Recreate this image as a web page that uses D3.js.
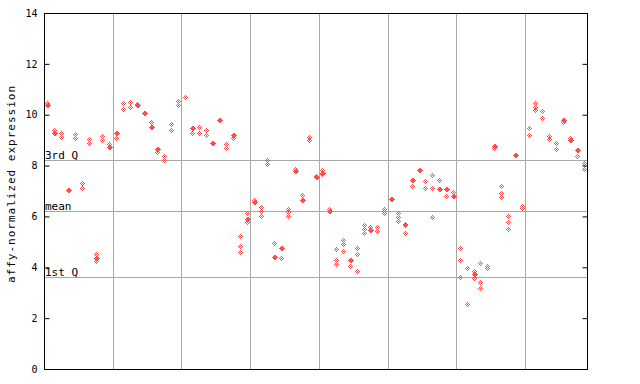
<!DOCTYPE html>
<html><head><meta charset="utf-8">
<script src="https://cdn.jsdelivr.net/npm/d3@7"></script>
<style>body{margin:0;background:#fff}svg{display:block}text{font-family:"DejaVu Sans Mono",monospace}</style>
</head><body>
<svg id="c" width="640" height="384"></svg>
<script>
// ---- data ----
const yTicks = [0, 2, 4, 6, 8, 10, 12, 14];
const quartileNames = ["1st Q", "mean", "3rd Q"];
const quartileValues = [3.62, 6.21, 8.23];
const groupBreaks = [9.5, 19.5, 29.5, 39.5, 49.5, 59.5, 69.5];
// per-sample replicate values, drawn as checkered diamonds
const hollowValues = [
  [10.47],[9.4],[9.3,9.12],[],[9.25,9.1],[7.3,7.12],[9.05,8.88],[4.52,4.25],[9.15,9.02],[8.85],
  [9.1],[10.45,10.22],[10.5,10.32],[10.43],[],[9.72],[8.55],[8.37,8.2],[9.62,9.38],[10.55,10.38],
  [10.68],[9.3],[9.5,9.27],[9.4,9.22],[],[],[8.85,8.7],[9.1],[5.23,4.84,4.6],[6.13,5.8],
  [6.66],[6.38,6.2,6.0],[8.2,8.05],[4.96],[4.36],[6.29,6.17,6.03],[7.86],[6.85],[9.12,9.0],[7.6],
  [7.82,7.65],[6.3],[4.72,4.29,4.13],[5.08,4.92,4.65],[4.06],[4.76,4.52,3.85],[5.67,5.5,5.35],[5.57],[5.57,5.41],[6.29,6.13],
  [],[6.13,5.98,5.83],[5.7,5.65,5.35],[7.2],[],[7.38,7.12],[7.64,7.12,5.98],[7.43],[6.79],[6.98],
  [4.76,4.29,3.62],[3.97,2.56],[3.87,3.58],[4.17,3.42,3.19],[4.05,3.97],[8.7],[7.18,6.92,6.76],[6.03,5.78,5.5],[],[6.42,6.35],
  [9.48,9.22],[10.46,10.3,10.2],[10.13,9.87],[9.17,9.05],[8.9,8.65],[9.7],[9.08],[8.38],[8.1,7.85]
];
// per-sample values drawn as solid diamonds
const filledValues = [
  [10.37],[9.27],[],[7.02],[],[],[],[4.38],[],[8.72],
  [9.27],[],[],[10.38],[10.07],[9.52],[8.67],[],[],[],
  [],[9.47],[],[],[8.9],[9.78],[],[9.22],[],[5.9],
  [6.57],[],[],[4.39],[4.76],[],[7.8],[6.63],[],[7.55],
  [7.72],[6.22],[],[],[4.27],[],[],[5.45],[],[],
  [6.67],[],[],[7.45],[7.81],[],[],[7.09],[7.08],[6.79],
  [],[],[3.72],[],[],[8.77],[],[],[8.4],[],
  [],[],[],[],[],[9.78],[9.02],[8.6],[]
];

// ---- drawing ----
const svg = d3.select("#c");
const L = 44, R = 587, T = 13, B = 369;
const x = d3.scaleLinear().domain([-0.5, hollowValues.length - 0.5]).range([L, R]);
const y = d3.scaleLinear().domain([0, 14]).range([B, T]);
const red = "#ff4d4d";

const defs = svg.append("defs");
const pat = defs.append("pattern").attr("id", "chk").attr("patternUnits", "userSpaceOnUse")
  .attr("width", 2).attr("height", 2);
pat.append("rect").attr("x", 0).attr("y", 0).attr("width", 1).attr("height", 1).attr("fill", red);
pat.append("rect").attr("x", 1).attr("y", 1).attr("width", 1).attr("height", 1).attr("fill", red);

// vertical group grid lines
svg.append("g").selectAll("line").data(groupBreaks).join("line")
  .attr("x1", d => Math.round(x(d)) + 0.5).attr("x2", d => Math.round(x(d)) + 0.5)
  .attr("y1", T).attr("y2", B).attr("stroke", "#a8a8a8").attr("stroke-width", 1);

// quartile lines
svg.append("g").selectAll("line").data(quartileValues).join("line")
  .attr("x1", L).attr("x2", R)
  .attr("y1", d => Math.round(y(d)) + 0.5).attr("y2", d => Math.round(y(d)) + 0.5)
  .attr("stroke", "#a8a8a8").attr("stroke-width", 1);
svg.append("g").selectAll("text").data(quartileValues).join("text")
  .attr("x", L + 1).attr("y", d => Math.round(y(d)) - 1)
  .attr("font-size", 11).attr("fill", "#000")
  .text((d, i) => quartileNames[i]);

// points: each drawn in a group placed at the rounded pixel so the checker is aligned
function diamond(r) {
  return `M0.5,${0.5 - r}L${0.5 + r},0.5L0.5,${0.5 + r}L${0.5 - r},0.5Z`;
}
const pts = svg.append("g");
hollowValues.forEach((vals, i) => {
  vals.forEach(v => {
    pts.append("g").attr("transform", `translate(${Math.round(x(i))},${Math.round(y(v))})`)
      .append("path").attr("d", diamond(2.9)).attr("fill", "url(#chk)")
      .attr("shape-rendering", "crispEdges");
  });
});
filledValues.forEach((vals, i) => {
  vals.forEach(v => {
    pts.append("g").attr("transform", `translate(${Math.round(x(i))},${Math.round(y(v))})`)
      .append("path").attr("d", diamond(3.0)).attr("fill", red)
      .attr("shape-rendering", "crispEdges");
  });
});

// axes
const left = d3.axisLeft(y).tickValues(yTicks).tickSizeInner(-5).tickSizeOuter(0).tickPadding(7).tickFormat(d3.format("d"));
const gl = svg.append("g").attr("transform", `translate(${L + 0.5},0)`).call(left);
gl.select(".domain").remove();
gl.selectAll("text").attr("font-size", 10).attr("font-family", "DejaVu Sans Mono").attr("fill", "#000");
gl.selectAll("line").attr("stroke", "#000");
const right = d3.axisRight(y).tickValues(yTicks).tickSizeInner(-5).tickSizeOuter(0).tickFormat("");
const gr = svg.append("g").attr("transform", `translate(${R + 0.5},0)`).call(right);
gr.select(".domain").remove();
gr.selectAll("line").attr("stroke", "#000");

// frame
svg.append("rect").attr("x", L + 0.5).attr("y", T + 0.5).attr("width", R - L).attr("height", B - T)
  .attr("fill", "none").attr("stroke", "#000").attr("stroke-width", 1);

// y title
svg.append("text").attr("transform", "translate(15,184) rotate(-90)")
  .attr("text-anchor", "middle").attr("font-size", 11).attr("letter-spacing", 1)
  .attr("fill", "#000").text("affy-normalized expression");
</script>
</body></html>
